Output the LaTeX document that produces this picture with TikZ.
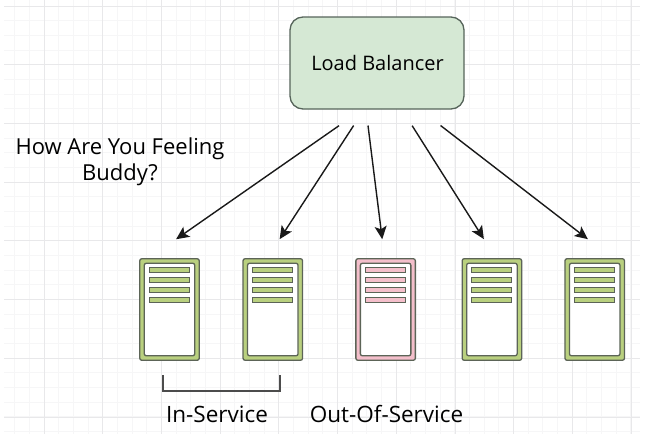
\documentclass[tikz,border=0pt]{standalone}
\usepackage{fontspec}
\setmainfont{Open Sans}
\usepackage{xcolor}
\usetikzlibrary{arrows.meta,positioning}
\definecolor{gridgray}{HTML}{E8E8EA}
\definecolor{gridfaint}{HTML}{F6F6F7}
\definecolor{lbfill}{HTML}{D5E8D4}
\definecolor{lbdraw}{HTML}{56645A}
\definecolor{srvgreen}{HTML}{B9D07F}
\definecolor{srvpink}{HTML}{F4BFCB}
\definecolor{srvdraw}{HTML}{5C6457}
\tikzset{
  balancer/.style={
    draw=lbdraw,
    fill=lbfill,
    rounded corners=13pt,
    line width=1.3pt,
    minimum width=174pt,
    minimum height=92pt,
    inner sep=0pt
  },
  serverbox/.style={
    draw=srvdraw,
    fill=srvgreen,
    rounded corners=2pt,
    line width=1.3pt,
    minimum width=59.5pt,
    minimum height=101.5pt,
    inner sep=0pt,
    path picture={
      \draw[srvdraw, fill=white, line width=1.3pt]
        ([shift={(4.5pt,-4.5pt)}]path picture bounding box.north west) rectangle
        ([shift={(-4.5pt,4.5pt)}]path picture bounding box.south east);
    }
  },
  outservice/.style={
    serverbox,
    fill=srvpink
  },
  flowarrow/.style={
    -{Stealth[length=13pt,width=12pt,inset=3pt]},
    line width=1.4pt,
    draw=black!90
  },
  bracketline/.style={
    draw=black!70,
    line width=1.2pt
  },
  caption/.style={
    align=center,
    inner sep=0pt,
    text=black
  }
}
% one row of slots on a server
\newcommand{\serverbars}[2]{
  \foreach \barpos in {12,22,32,42} {
    \draw[srvdraw, fill=#2, line width=1pt]
      ([shift={(10pt,-\barpos pt+2.3pt)}]#1.north west) rectangle
      ([shift={(50pt,-\barpos pt-2.3pt)}]#1.north west);
  }
}
\begin{document}
\begin{tikzpicture}[x=1pt,y=-1pt]
    \useasboundingbox (0,0) rectangle (671,434);
    % page grid
    \foreach \gx in {14.66,29.33,...,640} {
        \draw[gridfaint, line width=0.7pt] (\gx,0) -- (\gx,434);
    }
    \foreach \gy in {20.67,35.34,...,434} {
        \draw[gridfaint, line width=0.7pt] (4,\gy) -- (640,\gy);
    }
    \foreach \gx in {44,102.7,...,640} {
        \draw[gridgray, line width=0.8pt] (\gx,0) -- (\gx,434);
    }
    \foreach \gy in {6,64.7,...,434} {
        \draw[gridgray, line width=0.8pt] (4,\gy) -- (640,\gy);
    }

    \node[balancer] (balancer) at (377,63) {};
    \node[caption, font=\fontsize{20}{26}\selectfont] (balancertext) at (377.5,63) {Load Balancer};

    \node[serverbox] (srvone) at (169.5,309.5) {};
    \node[serverbox, right=42.5pt of srvone] (srvtwo) {};
    \node[outservice, right=52pt of srvtwo] (srvthree) {};
    \node[serverbox, right=45.5pt of srvthree] (srvfour) {};
    \node[serverbox, right=42pt of srvfour] (srvfive) {};
    \serverbars{srvone}{srvgreen}
    \serverbars{srvtwo}{srvgreen}
    \serverbars{srvthree}{srvpink}
    \serverbars{srvfour}{srvgreen}
    \serverbars{srvfive}{srvgreen}

    \draw[flowarrow, shorten <=28pt, shorten >=33pt] ([xshift=-15pt]balancer.south) -- ([xshift=-20.5pt]srvone.north);
    \draw[flowarrow, shorten <=19pt, shorten >=22.6pt] ([xshift=-13pt]balancer.south) -- ([xshift=-5.5pt]srvtwo.north);
    \draw[flowarrow, shorten <=16pt, shorten >=19pt] ([xshift=-11pt]balancer.south) -- ([xshift=-1pt]srvthree.north);
    \draw[flowarrow, shorten <=19pt, shorten >=22.5pt] ([xshift=25pt]balancer.south) -- ([xshift=4pt]srvfour.north);
    \draw[flowarrow, shorten <=26pt, shorten >=31pt] ([xshift=43pt]balancer.south) -- ([xshift=17.7pt]srvfive.north);

    \node[caption, font=\fontsize{22}{26}\selectfont] (question) at (120,162) {How Are You Feeling\\Buddy?};
    \coordinate (bracketleft) at (163,375);
    \coordinate (bracketright) at (280,375);
    \draw[bracketline] (bracketleft) -- ++(0,16) -| (bracketright);
    \node[caption, font=\fontsize{22.5}{26}\selectfont] (inservice) at (217,414) {In-Service};
    \node[caption, font=\fontsize{22.5}{26}\selectfont] (outofservice) at (386.5,414) {Out-Of-Service};
\end{tikzpicture}
\end{document}
